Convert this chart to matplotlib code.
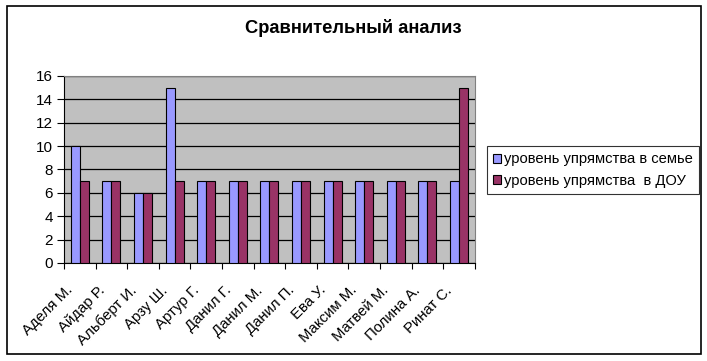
import matplotlib.pyplot as plt
import matplotlib.transforms as mtransforms
import numpy as np
from matplotlib.patches import Rectangle

plt.rcParams['font.family'] = ['Liberation Sans', 'DejaVu Sans']

names = ['Аделя М.', 'Айдар Р.', 'Альберт И.', 'Арзу Ш.', 'Артур Г.', 'Данил Г.',
         'Данил М.', 'Данил П.', 'Ева У.', 'Максим М.', 'Матвей М.', 'Полина А.', 'Ринат С.']
family = [10, 7, 6, 15, 7, 7, 7, 7, 7, 7, 7, 7, 7]
dou = [7, 7, 6, 7, 7, 7, 7, 7, 7, 7, 7, 7, 15]

fig = plt.figure(figsize=(7.07, 3.61), dpi=100)
ax = fig.add_axes([0.0905, 0.2715, 0.581, 0.518])
ax.set_facecolor('#C0C0C0')

x = np.arange(len(names))
w = 1 / 3.5
ax.bar(x - w / 2, family, w, color='#9999FF', edgecolor='black', linewidth=0.8,
       label='уровень упрямства в семье', zorder=3)
ax.bar(x + w / 2, dou, w, color='#993366', edgecolor='black', linewidth=0.8,
       label='уровень упрямства  в ДОУ', zorder=3)

ax.set_xlim(-0.5, len(names) - 0.5)
ax.set_ylim(0, 16)
ax.set_yticks(range(0, 17, 2))
ax.yaxis.grid(True, color='black', linewidth=0.9, zorder=1)
ax.set_axisbelow(True)

ax.set_xticks(np.arange(-0.5, len(names), 1))
ax.set_xticklabels([])
ax.set_xticks(x, minor=True)
ax.set_xticklabels(names, minor=True, rotation=45, ha='right', rotation_mode='anchor', fontsize=10.8)
ax.tick_params(axis='x', which='minor', length=0, pad=4)
ax.tick_params(axis='x', which='major', length=4, width=0.8)
ax.tick_params(axis='y', length=5, width=0.8, labelsize=11, pad=3)

off = mtransforms.ScaledTranslation(-10 / 72, -10.5 / 72, fig.dpi_scale_trans)
for lab in ax.get_xticklabels(minor=True):
    lab.set_transform(lab.get_transform() + off)

for s in ['top', 'right']:
    ax.spines[s].set_color('#808080')
ax.spines['left'].set_color('black')
ax.spines['bottom'].set_color('black')

fig.text(0.5, 0.922, 'Сравнительный анализ', ha='center', va='center',
         fontsize=13.2, fontweight='bold')

leg = ax.legend(loc='center left', bbox_to_anchor=(1.029, 0.497), frameon=True,
                fancybox=False, edgecolor='black', fontsize=10.6,
                handlelength=0.6, handleheight=0.6, handletextpad=0.2,
                borderpad=0.4, labelspacing=0.5, borderaxespad=0)
leg.get_frame().set_linewidth(0.8)

fig.patches.append(Rectangle((0.0092, 0.0194), 0.982, 0.963, transform=fig.transFigure,
                             fill=False, edgecolor='black', linewidth=1.2))

fig.savefig('out.png', dpi=100)
